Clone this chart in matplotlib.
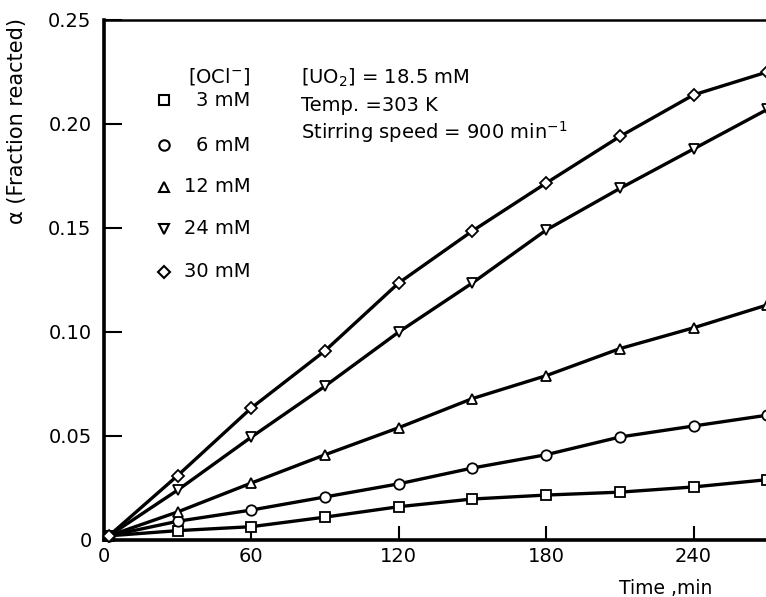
import matplotlib
matplotlib.use("Agg")
import matplotlib.pyplot as plt

time_min = [2, 30, 60, 90, 120, 150, 180, 210, 240, 270]
alpha_3mM = [0.002, 0.0045, 0.0064, 0.011, 0.016, 0.0197, 0.0216, 0.023, 0.0255, 0.029]
alpha_6mM = [0.002, 0.009, 0.0144, 0.0207, 0.027, 0.0346, 0.041, 0.0495, 0.0548, 0.060]
alpha_12mM = [0.002, 0.0135, 0.0274, 0.041, 0.054, 0.068, 0.079, 0.092, 0.102, 0.113]
alpha_24mM = [0.002, 0.024, 0.0495, 0.074, 0.100, 0.1236, 0.149, 0.169, 0.188, 0.207]
alpha_30mM = [0.002, 0.031, 0.0635, 0.091, 0.1236, 0.1486, 0.1716, 0.194, 0.214, 0.225]

series_labels = ["3 mM", "6 mM", "12 mM", "24 mM", "30 mM"]
series_values = [alpha_3mM, alpha_6mM, alpha_12mM, alpha_24mM, alpha_30mM]
series_markers = ["s", "o", "^", "v", "D"]
marker_sizes = [6.5, 7.5, 7, 7, 6.5]

x_ticks = [0, 60, 120, 180, 240]
y_ticks = [0, 0.05, 0.10, 0.15, 0.20, 0.25]
y_tick_labels = ["0", "0.05", "0.10", "0.15", "0.20", "0.25"]

plt.rcParams['font.family'] = ['DejaVu Sans']
plt.rcParams['mathtext.fontset'] = 'dejavusans'
fig = plt.figure(figsize=(7.66, 5.97), dpi=100)
ax = fig.add_axes([0.1358, 0.0955, 0.8642, 0.871])

for vals, mk, ms in zip(series_values, series_markers, marker_sizes):
    ax.plot(time_min, vals, color='black', lw=2.4, marker=mk, ms=ms,
            mfc='white', mec='black', mew=1.3, clip_on=False, zorder=3)

ax.set_xlim(0, 269.5)
ax.set_ylim(0, 0.25)
ax.set_xticks(x_ticks)
ax.set_xticklabels([str(t) for t in x_ticks])
ax.set_yticks(y_ticks)
ax.set_yticklabels(y_tick_labels)
ax.tick_params(axis='y', direction='in', length=13, width=1.5, labelsize=14, pad=9)
ax.tick_params(axis='x', direction='in', length=10, width=1.5, labelsize=14, pad=5)

ax.spines['right'].set_visible(False)
ax.spines['left'].set_linewidth(2.6)
ax.spines['bottom'].set_linewidth(2.6)
ax.spines['top'].set_linewidth(1.8)

fig.text(0.022, 0.797, "α (Fraction reacted)", fontsize=15, rotation=90,
         ha='center', va='center')
fig.text(0.93, 0.015, "Time ,min", fontsize=13.5, ha='right', va='center')

# legend (manual)
fig.text(0.327, 0.872, "[OCl$^{-}$]", fontsize=14, ha='right', va='center')
leg_y = [0.832, 0.757, 0.687, 0.617, 0.545]
for lab, mk, ms, yy in zip(series_labels, series_markers, marker_sizes, leg_y):
    fig.text(0.327, yy, lab, fontsize=14, ha='right', va='center')
    fig.lines.append(plt.Line2D([0.214], [yy], marker=mk, ms=ms, mfc='white',
                                mec='black', mew=1.5, color='black',
                                transform=fig.transFigure))

fig.text(0.393, 0.869, "[UO$_2$] = 18.5 mM", fontsize=14, ha='left', va='center')
fig.text(0.393, 0.824, "Temp. =303 K", fontsize=14, ha='left', va='center')
fig.text(0.393, 0.778, "Stirring speed = 900 min$^{-1}$", fontsize=14, ha='left', va='center')

fig.savefig("out.png", dpi=100)
